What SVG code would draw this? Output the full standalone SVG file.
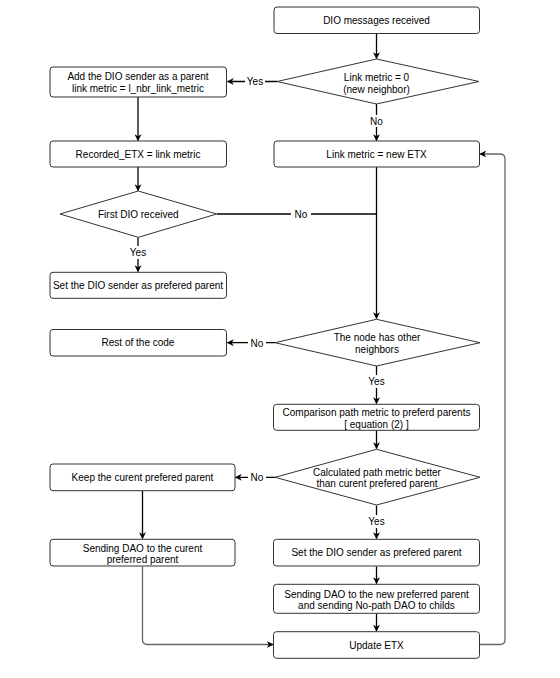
<svg xmlns="http://www.w3.org/2000/svg" width="560" height="678" viewBox="0 0 560 678">
<defs>
<style>
.box{fill:#fff;stroke:#333;stroke-width:1}
.dia{fill:#fff;stroke:#333;stroke-width:1}
.t{font-family:"Liberation Sans",Arial,sans-serif;font-size:10px;fill:#000;text-anchor:middle}
.c{fill:none;stroke:#000;stroke-width:1.3}
.g{fill:none;stroke:#666;stroke-width:1.3}
.lb{fill:#fff}
</style>
<marker id="ah" viewBox="0 0 10 10" refX="9" refY="5" markerWidth="7" markerHeight="7" markerUnits="userSpaceOnUse" orient="auto">
<path d="M0,0 L10,5 L0,10 L3,5 Z" fill="#000"/>
</marker>
</defs>
<rect width="560" height="678" fill="#fff"/>

<g id="connectors">
<path class="c" d="M376.5,33.5 V58.5" marker-end="url(#ah)"/>
<path class="c" d="M277,81.5 H227.5" marker-end="url(#ah)"/>
<path class="c" d="M376.5,104 V140.5" marker-end="url(#ah)"/>
<path class="c" d="M138,97 V140.5" marker-end="url(#ah)"/>
<path class="c" d="M138,167 V190.5" marker-end="url(#ah)"/>
<path class="c" d="M217,214 H376.5"/>
<path class="c" d="M376.5,167 V318.5" marker-end="url(#ah)"/>
<path class="c" d="M138,237.5 V271.5" marker-end="url(#ah)"/>
<path class="c" d="M275,342.7 H227.5" marker-end="url(#ah)"/>
<path class="c" d="M376.5,366 V403.5" marker-end="url(#ah)"/>
<path class="c" d="M376.5,430.5 V448.5" marker-end="url(#ah)"/>
<path class="c" d="M275,477.3 H235.5" marker-end="url(#ah)"/>
<path class="c" d="M376.5,505.5 V538.5" marker-end="url(#ah)"/>
<path class="c" d="M142.5,491 V538.5" marker-end="url(#ah)"/>
<path class="c" d="M376.5,566.5 V583.5" marker-end="url(#ah)"/>
<path class="c" d="M376.5,613.5 V631" marker-end="url(#ah)"/>
<path class="g" d="M142.5,566.5 V639.5 Q142.5,644.5 147.5,644.5 H273" marker-end="url(#ah)"/>
<path class="g" d="M479.5,644.5 H500 Q505,644.5 505,639.5 V159 Q505,154 500,154 H480" marker-end="url(#ah)"/>
</g>

<g id="edge-labels">
<rect class="lb" x="245" y="75" width="20" height="13"/>
<text class="t" x="255" y="85">Yes</text>
<rect class="lb" x="366" y="115" width="21" height="12"/>
<text class="t" x="376.5" y="124.5">No</text>
<rect class="lb" x="291" y="208" width="20" height="12"/>
<text class="t" x="301" y="217.5">No</text>
<rect class="lb" x="127" y="246" width="22" height="13"/>
<text class="t" x="138" y="256">Yes</text>
<rect class="lb" x="248" y="337" width="18" height="12"/>
<text class="t" x="257" y="346.5">No</text>
<rect class="lb" x="365" y="375" width="23" height="13"/>
<text class="t" x="376.5" y="385">Yes</text>
<rect class="lb" x="248" y="471" width="18" height="12"/>
<text class="t" x="257" y="481">No</text>
<rect class="lb" x="365" y="515" width="23" height="13"/>
<text class="t" x="376.5" y="524.5">Yes</text>
</g>

<g id="n-dio-received">
<rect class="box" x="274" y="7" width="205.5" height="26.5" rx="3"/>
<text class="t" x="376.5" y="23.5">DIO messages received</text>
</g>
<g id="n-link-metric-zero">
<polygon class="dia" points="376.5,59 479,81.5 376.5,104 277,81.5"/>
<text class="t" x="376.5" y="80.5">Link metric = 0</text>
<text class="t" x="376.5" y="92.5">(new neighbor)</text>
</g>
<g id="n-add-parent">
<rect class="box" x="50" y="67" width="176.5" height="30" rx="3"/>
<text class="t" x="138" y="80">Add the DIO sender as a parent</text>
<text class="t" x="138" y="92">link metric = l_nbr_link_metric</text>
</g>
<g id="n-recorded-etx">
<rect class="box" x="50" y="141" width="176.5" height="26" rx="3"/>
<text class="t" x="138" y="157.5">Recorded_ETX = link metric</text>
</g>
<g id="n-link-new-etx">
<rect class="box" x="274" y="141" width="205.5" height="26" rx="3"/>
<text class="t" x="376.5" y="157.5">Link metric = new ETX</text>
</g>
<g id="n-first-dio">
<polygon class="dia" points="138.3,191 216.7,214 138.3,237.3 60,214"/>
<text class="t" x="138.3" y="217.5">First DIO received</text>
</g>
<g id="n-set-pref-left">
<rect class="box" x="50" y="272.3" width="176.5" height="26" rx="3"/>
<text class="t" x="138" y="289">Set the DIO sender as prefered parent</text>
</g>
<g id="n-rest">
<rect class="box" x="50" y="329.5" width="176.5" height="26.5" rx="3"/>
<text class="t" x="138" y="346">Rest of the code</text>
</g>
<g id="n-other-neighbors">
<polygon class="dia" points="376.5,319.3 480,342.7 376.5,366 275,342.7"/>
<text class="t" x="377" y="341">The node has other</text>
<text class="t" x="377" y="352.5">neighbors</text>
</g>
<g id="n-comparison">
<rect class="box" x="273.5" y="404.3" width="206" height="26" rx="3"/>
<text class="t" x="376.5" y="415.5">Comparison path metric to preferd parents</text>
<text class="t" x="376.5" y="427.5">[ equation (2) ]</text>
</g>
<g id="n-calculated">
<polygon class="dia" points="376.5,449.3 480,477.3 376.5,505 275,477.3"/>
<text class="t" x="377" y="476">Calculated path metric better</text>
<text class="t" x="377" y="487">than curent prefered parent</text>
</g>
<g id="n-keep">
<rect class="box" x="50" y="464" width="185" height="26.7" rx="3"/>
<text class="t" x="142.5" y="480.5">Keep the curent prefered parent</text>
</g>
<g id="n-send-current">
<rect class="box" x="50" y="539.3" width="185" height="26.7" rx="3"/>
<text class="t" x="142.5" y="551.5">Sending DAO to the curent</text>
<text class="t" x="142.5" y="562.5">preferred parent</text>
</g>
<g id="n-set-pref-right">
<rect class="box" x="273.5" y="539.3" width="206" height="26.7" rx="3"/>
<text class="t" x="376.5" y="556">Set the DIO sender as prefered parent</text>
</g>
<g id="n-send-new">
<rect class="box" x="273.5" y="584.3" width="206" height="29" rx="3"/>
<text class="t" x="376.5" y="597.5">Sending DAO to the new preferred parent</text>
<text class="t" x="376.5" y="608.5">and sending No-path DAO to childs</text>
</g>
<g id="n-update-etx">
<rect class="box" x="273.5" y="631.7" width="206" height="26.6" rx="3"/>
<text class="t" x="376.5" y="648.5">Update ETX</text>
</g>
</svg>
